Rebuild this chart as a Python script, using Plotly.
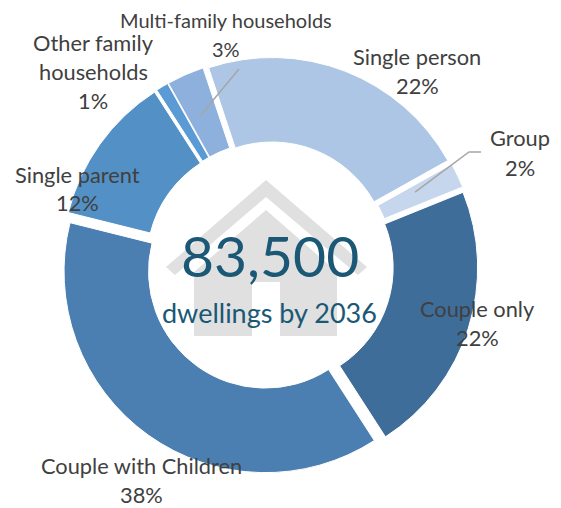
import plotly.graph_objects as go

W, H = 561, 508

# Household composition of projected dwellings
categories = ["Couple only", "Couple with Children", "Single parent",
              "Other family households", "Multi-family households",
              "Single person", "Group"]
shares = [22, 38, 12, 1, 3, 22, 2]
colors = ["#3f6d99", "#4b7fb2", "#5390c5", "#5b9bd5", "#8db0dc", "#adc6e5", "#c6d7ed"]

total_text = "83,500"
total_caption = "dwellings by 2036"

# Label text with explicit wrapping
label_lines = {
    "Couple only": ["Couple only"],
    "Couple with Children": ["Couple with Children"],
    "Single parent": ["Single parent"],
    "Other family households": ["Other family", "households"],
    "Multi-family households": ["Multi-family households"],
    "Single person": ["Single person"],
    "Group": ["Group"],
}
# Horizontal centre and first-line centre of each label, in pixels
label_anchor = {
    "Couple only": (477, 308),
    "Couple with Children": (141, 465),
    "Single parent": (77, 174),
    "Other family households": (93, 43),
    "Multi-family households": (226, 20),
    "Single person": (417, 56),
    "Group": (520, 138),
}
LINE_STEP = 29


def px(x, y):
    return x / W, 1 - y / H


def path(points):
    coords = [px(*p) for p in points]
    return "M" + " L".join(f"{x:.4f},{y:.4f}" for x, y in coords)


# House silhouette behind the centre text
roof = [(166, 267), (266, 180), (367, 267), (358, 275), (266, 197), (175, 275)]
body = [(194, 336), (194, 272), (266, 210), (337, 272), (337, 336),
        (280, 336), (280, 282), (252, 282), (252, 336)]

shapes = [
    dict(type="path", path=path(roof) + " Z", xref="paper", yref="paper",
         fillcolor="#e0e0e0", line_width=0, layer="below"),
    dict(type="path", path=path(body) + " Z", xref="paper", yref="paper",
         fillcolor="#e0e0e0", line_width=0, layer="below"),
    # Leader lines for the two narrow slices
    dict(type="path", path=path([(239, 69), (200, 116)]), xref="paper", yref="paper",
         line=dict(color="#a6a6a6", width=1.5), layer="above"),
    dict(type="path", path=path([(415, 192), (469, 152), (481, 152)]), xref="paper", yref="paper",
         line=dict(color="#a6a6a6", width=1.5), layer="above"),
]

annotations = []
for name, share in zip(categories, shares):
    cx, cy = label_anchor[name]
    size = 20 if name == "Multi-family households" else 21.8
    for i, line in enumerate(label_lines[name] + [f"{share}%"]):
        x, y = px(cx, cy + i * LINE_STEP)
        annotations.append(dict(
            x=x, y=y, xref="paper", yref="paper", showarrow=False,
            xanchor="center", yanchor="middle", text=line,
            font=dict(family="Lato", size=size, color="#404040"),
        ))

x, y = px(270, 255)
annotations.append(dict(x=x, y=y, xref="paper", yref="paper", showarrow=False,
                        text=total_text,
                        font=dict(family="Lato", size=57, color="#1a5876")))
x, y = px(269, 312)
annotations.append(dict(x=x, y=y, xref="paper", yref="paper", showarrow=False,
                        text=total_caption,
                        font=dict(family="Lato", size=27, color="#1a5876")))

fig = go.Figure(go.Pie(
    labels=categories,
    values=shares,
    sort=False,
    direction="clockwise",
    rotation=68,
    hole=0.58,
    pull=[0.036] * len(shares),
    textinfo="none",
    showlegend=False,
    marker=dict(colors=colors, line=dict(color="#ffffff", width=1)),
    domain=dict(x=[61 / W, 478 / W], y=[1 - 474 / H, 1 - 57 / H]),
))

fig.update_layout(
    width=W, height=H,
    margin=dict(l=0, r=0, t=0, b=0),
    paper_bgcolor="#ffffff",
    shapes=shapes,
    annotations=annotations,
)

fig.write_html("out.html")
